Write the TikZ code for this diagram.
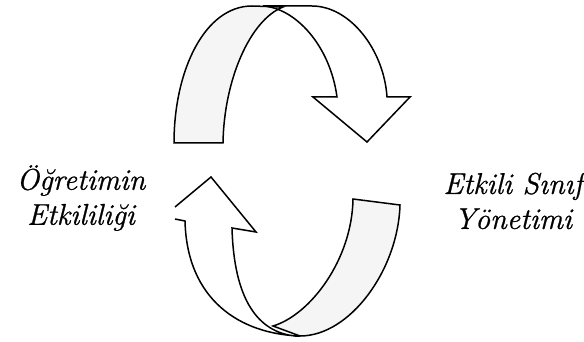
\documentclass[tikz,border=0pt]{standalone}
\usepackage{fontspec}
\setmainfont{Latin Modern Roman}[ItalicFeatures={FakeBold=0.8}]
\begin{document}
\begin{tikzpicture}[x=1pt,y=-1pt,
  edge/.style={draw=black,line width=1.5pt,line join=miter},
  band/.style={fill=black!4},
  lbl/.style={font=\itshape\fontsize{30}{35}\selectfont,align=center,inner sep=0pt}]
\useasboundingbox (0,0) rectangle (584,342);

% upper arrow: the back part carries the head, the shaded band is in front
\def\upback{(263,6) -- (312,6) .. controls (350,6) and (384,50) .. (387,97)
  -- (410,97) -- (367,142) -- (313,97) -- (337,97)
  .. controls (330,45) and (295,8) .. (263,6) -- cycle}
\def\upfront{(174,143) .. controls (174,70) and (205,6) .. (252,6) -- (283,7)
  .. controls (250,20) and (224,80) .. (223,143) -- cycle}

% lower arrow: same idea turned round; its left barb is left open
\def\lowback{(175,219) -- (185,221) .. controls (187,300) and (240,334) .. (300,336)
  -- (295,336) .. controls (258,332) and (234,300) .. (232,228)
  -- (256,232) -- (211,177) -- (175,207)}
\def\lowfront{(353,199) -- (400,205) .. controls (398,270) and (350,336) .. (300,336)
  -- (273,326) .. controls (310,315) and (352,260) .. (353,199) -- cycle}

\fill[white] \upback;
\fill[band] \upfront;
\fill[white] \lowback -- cycle;
\fill[band] \lowfront;
\draw[edge] \upback;
\draw[edge] \upfront;
\draw[edge] \lowback;
\draw[edge] \lowfront;

\node[lbl] (ogretim) at (81,198) {Öğretimin\\Etkililiği};
\node[lbl] (sinif) at (513,201) {Etkili Sınıf\\Yönetimi};
\end{tikzpicture}
\end{document}
